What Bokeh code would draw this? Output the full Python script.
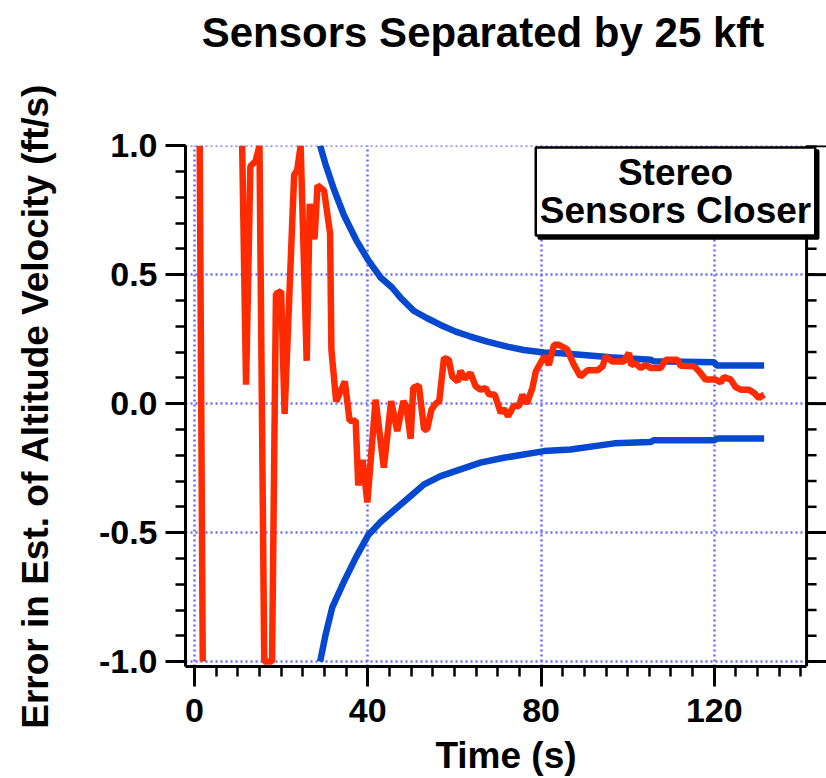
import numpy as np
from bokeh.plotting import figure
from bokeh.layouts import column
from bokeh.models import SingleIntervalTicker, Label, PrintfTickFormatter, Span, BoxAnnotation, Div
from bokeh.embed import file_html
from bokeh.resources import INLINE

nan = float("nan")

# Error in the estimated altitude velocity (ft/s); off-scale stretch kept as a gap
err_time = [1.2, 1.9, nan, 11.0, 11.9, 12.9, 14.1, 15.0, 16.1, 17.9, 18.8, 20.0, 20.8,
            23.0, 23.7, 24.5, 25.9, 26.6, 27.7, 28.4, 29.9, 31.3, 31.6, 32.7, 34.7,
            35.8, 37.2, 37.8, 38.8, 39.9, 41.8, 43.7, 45.4, 46.8, 48.2, 48.9, 49.9,
            50.5, 51.8, 53.0, 53.7, 54.7, 55.7, 56.5, 57.6, 58.7, 59.5, 60.8, 61.4,
            62.4, 63.7, 64.9, 66.1, 67.2, 68.0, 69.3, 70.7, 71.4, 72.4, 73.7, 74.9,
            75.7, 76.7, 78.0, 78.8, 80.3, 81.0, 81.8, 83.0, 84.1, 86.0, 87.6, 89.1,
            90.7, 93.0, 94.2, 94.9, 96.5, 99.1, 100.3, 100.8, 101.8, 103.0, 104.2,
            105.3, 107.6, 108.8, 111.5, 112.2, 115.3, 116.5, 118.0, 120.3, 121.5,
            122.2, 123.8, 124.9, 126.1, 128.0, 129.2, 130.3, 131.5]
err_value = [1.0, -1.0, nan, 1.0, 0.073, 0.92, 0.94, 1.0, -1.0, -1.0, 0.425, 0.436, -0.04,
             0.886, 0.905, 1.0, 0.166, 0.774, 0.637, 0.846, 0.826, 0.66, 0.21, 0.008, 0.086,
             -0.066, -0.066, -0.317, -0.218, -0.383, 0.015, -0.248, 0.01, -0.107, 0.01, -0.01, -0.136,
             0.061, 0.07, -0.10, -0.10, -0.023, 0.0, 0.01, 0.177, 0.17, 0.105, 0.086, 0.127,
             0.096, 0.119, 0.067, 0.054, 0.06, 0.035, 0.035, -0.036, -0.02, -0.049, -0.008, -0.01,
             0.035, 0.0, 0.06, 0.125, 0.17, 0.183, 0.15, 0.228, 0.228, 0.21, 0.15, 0.105,
             0.129, 0.129, 0.144, 0.183, 0.163, 0.163, 0.196, 0.15, 0.156, 0.138, 0.15,
             0.138, 0.138, 0.17, 0.17, 0.147, 0.145, 0.125, 0.093, 0.093, 0.082,
             0.103, 0.093, 0.064, 0.054, 0.054, 0.041, 0.022, 0.035]

# Error bounds
upper_time = [29.0, 30.2, 32.2, 34.5, 37.3, 40.1, 42.9, 45.6, 47.6, 50.6, 53.7, 56.8,
              60.3, 63.7, 67.6, 72.2, 76.0, 80.7, 84.5, 89.1, 96.0, 105.3, 106.0,
              120.0, 120.5, 131.5]
upper_value = [1.0, 0.93, 0.83, 0.73, 0.635, 0.556, 0.49, 0.45, 0.41, 0.36, 0.331, 0.305,
               0.279, 0.26, 0.24, 0.221, 0.208, 0.198, 0.195, 0.189, 0.18, 0.17, 0.164,
               0.16, 0.148, 0.148]
lower_time = [29.0, 30.2, 31.8, 34.5, 37.3, 40.1, 42.9, 45.6, 49.9, 53.0, 56.8, 61.4,
              66.0, 71.4, 76.0, 80.7, 86.8, 96.9, 105.3, 106.0, 120.0, 120.7, 131.5]
lower_value = [-1.0, -0.90, -0.79, -0.69, -0.595, -0.51, -0.46, -0.42, -0.358, -0.313,
               -0.281, -0.255, -0.229, -0.21, -0.197, -0.184, -0.178, -0.154, -0.149,
               -0.142, -0.142, -0.135, -0.135]

x_tick_step, x_minor_per_major = 40, 8
y_tick_step, y_minor_per_major = 0.5, 5

X_START, X_AXIS_END, X_END = -2.08, 141.3, 145.9
Y_START, Y_END = -1.019, 1.0005

FONT = "Liberation Sans"
RED = "#ff2b00"
BLUE = "#0648d0"
GRID = "#6a6aff"
INK = "black"

TITLE_H = 60

title = Div(
    text=("<div style=\"width:826px;box-sizing:border-box;padding-left:140px;"
          "padding-top:9px;text-align:center;white-space:nowrap;color:black;"
          "font-family:'Liberation Sans';font-weight:bold;font-size:42px;"
          "line-height:48px;\">Sensors Separated by 25 kft</div>"),
    width=826, height=TITLE_H, margin=(0, 0, 0, 0))

p = figure(width=826, height=778 - TITLE_H, x_range=(X_START, X_END), y_range=(Y_START, Y_END),
           output_backend="svg", toolbar_location=None, margin=(0, 0, 0, 0),
           min_border_left=185, min_border_right=0, min_border_top=145 - TITLE_H,
           min_border_bottom=110)
p.outline_line_color = None
p.background_fill_color = "white"
p.border_fill_color = "white"

xt = SingleIntervalTicker(interval=x_tick_step, num_minor_ticks=x_minor_per_major)
yt = SingleIntervalTicker(interval=y_tick_step, num_minor_ticks=y_minor_per_major)

def style_axis(ax, ticker):
    ax.ticker = ticker
    ax.axis_line_width = 3
    ax.major_tick_line_width = 3
    ax.minor_tick_line_width = 2.5
    ax.major_tick_out = 20
    ax.major_tick_in = 0
    ax.minor_tick_out = 10
    ax.minor_tick_in = 0
    ax.major_label_text_color = INK
    ax.major_label_text_font = FONT
    ax.major_label_text_font_style = "bold"
    ax.axis_label_text_color = INK
    ax.axis_label_text_font = FONT
    ax.axis_label_text_font_style = "bold"

xa = p.xaxis[0]
style_axis(xa, xt)
xa.bounds = (X_START, X_AXIS_END)
xa.axis_label = "Time (s)"
xa.axis_label_text_font_size = "37px"
xa.major_label_text_font_size = "34px"
xa.major_label_standoff = 12
xa.axis_label_standoff = 10

ya = p.yaxis[0]
style_axis(ya, yt)
ya.formatter = PrintfTickFormatter(format="%.1f")
ya.axis_label = "Error in Est. of Altitude Velocity (ft/s)"
ya.axis_label_text_font_size = "37px"
ya.major_label_text_font_size = "34px"
ya.major_label_standoff = 8
ya.axis_label_standoff = 40

for g, t in ((p.xgrid[0], xt), (p.ygrid[0], yt)):
    g.ticker = t
    g.grid_line_color = GRID
    g.grid_line_width = 2.5
    g.grid_line_dash = "2 3"

# keep the area right of the frame edge blank
p.add_layout(BoxAnnotation(left=X_AXIS_END, fill_color="white", fill_alpha=1.0,
                           line_color=None, level="underlay"))

# right-hand axis line with outward ticks
p.add_layout(Span(location=X_AXIS_END, dimension="height", line_color=INK, line_width=3))
y_major = np.arange(-1.0, 1.0 + 1e-9, y_tick_step)
y_minor = np.arange(-1.0, 1.0 + 1e-9, y_tick_step / y_minor_per_major)
p.ray(x=X_AXIS_END, y=y_minor, length=10, length_units="screen", angle=0,
      line_color=INK, line_width=2.5)
p.ray(x=X_AXIS_END, y=y_major, length=20, length_units="screen", angle=0,
      line_color=INK, line_width=3)

p.line(upper_time, upper_value, line_color=BLUE, line_width=6.5)
p.line(lower_time, lower_value, line_color=BLUE, line_width=6.5)
p.line(err_time, err_value, line_color=RED, line_width=6.5)

note_text = "Stereo\nSensors Closer"
for dx, dy, fill in ((3, -3, INK), (0, 0, "white")):
    p.add_layout(Label(x=490, y=519, x_units="screen", y_units="screen",
                       x_offset=dx, y_offset=dy, text=note_text,
                       text_align="center", text_baseline="top", text_color=INK,
                       text_font=FONT, text_font_style="bold", text_font_size="37px",
                       text_line_height=0.95, padding=4,
                       background_fill_color=fill, border_line_color=INK,
                       border_line_width=2.5))

page = column(title, p, spacing=0)
open("out.html", "w").write(file_html(page, INLINE))
